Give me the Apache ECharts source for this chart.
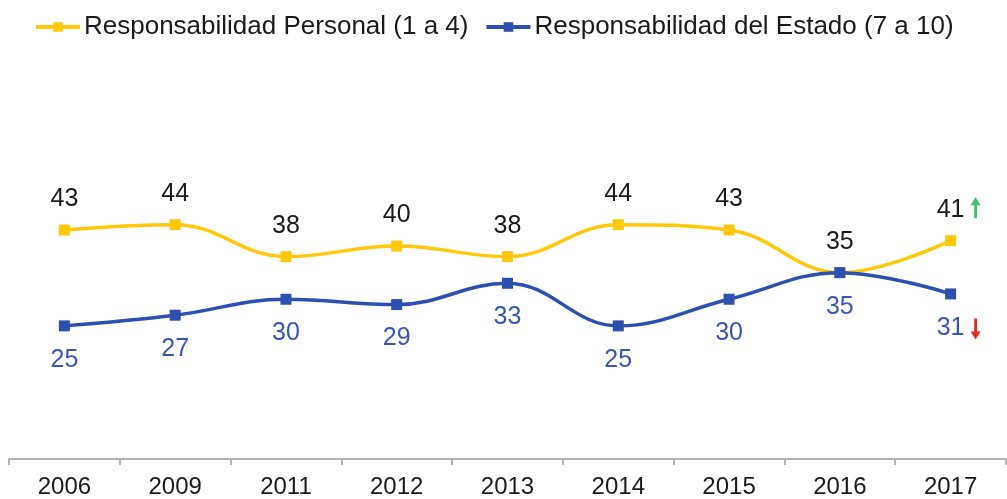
<!DOCTYPE html>
<html>
<head>
<meta charset="utf-8">
<title>Responsabilidad</title>
<script src="https://cdn.jsdelivr.net/npm/echarts@6/dist/echarts.min.js"></script>
<style>
  html, body { margin: 0; padding: 0; background: #fff; }
  #main { width: 1007px; height: 499px; }
</style>
</head>
<body>
<div id="main"></div>
<script>
// datos
const years = ['2006', '2009', '2011', '2012', '2013', '2014', '2015', '2016', '2017'];
const personal = [43, 44, 38, 40, 38, 44, 43, 35, 41];
const estado = [25, 27, 30, 29, 33, 25, 30, 35, 31];

const YELLOW = '#FFC80A';
const BLUE = '#2D4FAE';
const FONT = '"Liberation Sans", Arial, sans-serif';
// flechas de tendencia al final
const ARROW_UP = 'path://M5,0 L10,8 L6.4,8 L6.4,21 L3.6,21 L3.6,8 L0,8 Z';
const ARROW_DOWN = 'path://M3.6,0 L6.4,0 L6.4,13 L10,13 L5,21 L0,13 L3.6,13 Z';

const chart = echarts.init(document.getElementById('main'));
const last = years.length - 1;

const option = {
  animation: false,
  textStyle: { fontFamily: FONT },
  legend: {
    left: 29,
    top: 9,
    itemWidth: 44,
    itemHeight: 12,
    itemGap: 16,
    lineStyle: { width: 4 },
    textStyle: { fontSize: 26, color: '#1a1a1a', fontFamily: FONT, padding: [0, 0, 0, -1] },
    data: ['Responsabilidad Personal (1 a 4)', 'Responsabilidad del Estado (7 a 10)']
  },
  grid: { left: 9, right: 1, top: 33, bottom: 40 },
  xAxis: {
    type: 'category',
    data: years,
    boundaryGap: true,
    axisLine: { lineStyle: { color: '#b4b4b4', width: 2 } },
    axisTick: { show: true, length: 6, interval: 0, lineStyle: { color: '#b4b4b4', width: 2 } },
    axisLabel: { fontSize: 24, color: '#1a1a1a', margin: 16, fontFamily: FONT, interval: 0 }
  },
  yAxis: { type: 'value', min: 0, max: 80, show: false },
  series: [
    {
      name: 'Responsabilidad Personal (1 a 4)',
      type: 'line',
      data: personal,
      smooth: 0.4,
      symbol: 'rect',
      symbolSize: 11,
      color: YELLOW,
      lineStyle: { width: 3.5, color: YELLOW },
      itemStyle: { color: YELLOW },
      label: {
        show: true,
        position: 'top',
        distance: 13,
        fontSize: 25,
        color: '#1a1a1a',
        fontFamily: FONT
      },
      markPoint: {
        silent: true,
        symbol: ARROW_UP,
        symbolSize: [10, 21],
        symbolOffset: [25, -33],
        itemStyle: { color: '#3cc46a' },
        label: { show: false },
        data: [{ coord: [last, personal[last]] }]
      },
      z: 2
    },
    {
      name: 'Responsabilidad del Estado (7 a 10)',
      type: 'line',
      data: estado,
      smooth: 0.4,
      symbol: 'rect',
      symbolSize: 11,
      color: BLUE,
      lineStyle: { width: 3.5, color: BLUE },
      itemStyle: { color: BLUE },
      label: {
        show: true,
        position: 'bottom',
        distance: 16,
        fontSize: 25,
        color: '#3a56b4',
        fontFamily: FONT
      },
      markPoint: {
        silent: true,
        symbol: ARROW_DOWN,
        symbolSize: [10, 21],
        symbolOffset: [25, 35],
        itemStyle: { color: '#e8281e' },
        label: { show: false },
        data: [{ coord: [last, estado[last]] }]
      },
      z: 3
    }
  ]
};

chart.setOption(option);
</script>
</body>
</html>
